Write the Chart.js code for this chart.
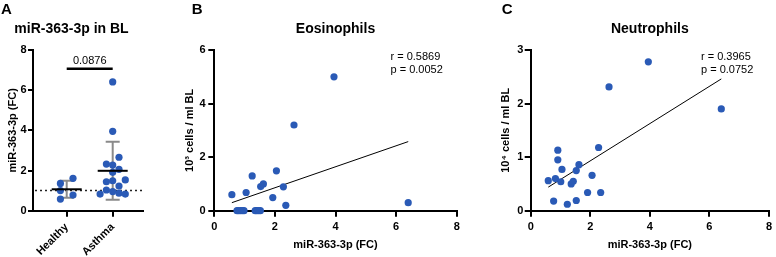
<!DOCTYPE html>
<html><head><meta charset="utf-8">
<script src="https://cdn.jsdelivr.net/npm/chart.js@4.4.1/dist/chart.umd.min.js"></script>
<style>
html,body{margin:0;padding:0;background:#fff;overflow:hidden;width:776px;height:257px;}
canvas{position:absolute;top:0;}
</style></head><body>
<canvas id="cA" width="160" height="257" style="left:0px"></canvas>
<canvas id="cB" width="310" height="257" style="left:160px"></canvas>
<canvas id="cC" width="296" height="257" style="left:480px"></canvas>
<script>
// ---------- Panel A: miR-363-3p in BL ----------
const groupLabels = ['Healthy', 'Asthma'];
const groupPositions = [1, 2];
const healthyFC = [1.36, 1.61, 1.00, 0.78, 0.58];
const healthyJitter = [-1, 1, -1, 1, -1];
const asthmaFC = [6.41, 3.95, 2.66, 2.32, 2.27, 2.06, 1.91, 1.53, 1.49, 1.44, 1.23, 1.03, 0.95, 0.87, 0.83, 0.83];
const asthmaJitter = [0, 0, 1, -1, 0, 1, 0, 2, 0, -1, 1, -1, 0, 1, -2, 2];
const yTicksA = [0, 2, 4, 6, 8];
const referenceFC = 1;
const pValueA = '0.0876';
const bracketLevelA = 7.07;

// ---------- Panel B: Eosinophils ----------
const eosFC = [0.58, 1.05, 1.25, 1.53, 1.62, 1.93, 2.05, 2.28, 2.36, 2.63, 3.95, 6.40,
               0.75, 0.80, 0.86, 0.92, 0.98, 1.35, 1.40, 1.46, 1.52];
const eosCells = [0.60, 0.68, 1.30, 0.90, 1.00, 0.49, 1.49, 0.89, 0.20, 3.20, 5.00, 0.30,
                  0, 0, 0, 0, 0, 0, 0, 0, 0];
const eosFitFC = [0.58, 6.40];
const eosFitCells = [0.30, 2.58];
const eosStats = ['r = 0.5869', 'p = 0.0052'];
const yTicksB = [0, 2, 4, 6];

// ---------- Panel C: Neutrophils ----------
const neuFC = [0.59, 0.77, 0.83, 0.91, 0.91, 1.01, 1.05, 1.23, 1.36, 1.43, 1.53, 1.53, 1.62, 1.91, 2.06, 2.28, 2.35, 2.63, 3.95, 6.40];
const neuCells = [0.56, 0.18, 0.60, 1.13, 0.95, 0.54, 0.77, 0.12, 0.50, 0.55, 0.75, 0.19, 0.86, 0.34, 0.66, 1.18, 0.34, 2.31, 2.78, 1.90];
const neuFitFC = [0.59, 6.40];
const neuFitCells = [0.44, 2.46];
const neuStats = ['r = 0.3965', 'p = 0.0752'];
const yTicksC = [0, 1, 2, 3];
const xTicksBC = [0, 2, 4, 6, 8];

// ---------- styling ----------
const FONT = "'Liberation Sans', Arial, Helvetica, sans-serif";
const BLUE = '#2a5ab6';
const JIT = 0.137;
const tickFont = {family: FONT, size: 11, weight: 'bold'};
const axisTitleFont = {family: FONT, size: 11, weight: 'bold'};
const titleFont = {family: FONT, size: 14, weight: 'bold'};

function pts(xs, ys) { return xs.map((x, i) => ({x: x, y: ys[i]})); }
function mean(a) { return a.reduce((s, v) => s + v, 0) / a.length; }
function sd(a) { const m = mean(a); return Math.sqrt(a.reduce((s, v) => s + (v - m) * (v - m), 0) / (a.length - 1)); }

const textPlugin = {
  id: 'panelText',
  afterDraw(chart, args, opts) {
    const ctx = chart.ctx;
    (opts.items || []).forEach(it => {
      ctx.save();
      ctx.font = it.font;
      ctx.fillStyle = '#000';
      ctx.textAlign = it.align || 'left';
      ctx.textBaseline = 'alphabetic';
      ctx.fillText(it.text, it.x, it.y);
      ctx.restore();
    });
  }
};

const groupStatsPlugin = {
  id: 'groupStats',
  beforeDatasetsDraw(chart) {
    const ctx = chart.ctx, xs = chart.scales.x, ys = chart.scales.y, area = chart.chartArea;
    // dotted reference line at FC = 1
    ctx.save();
    ctx.strokeStyle = '#222'; ctx.lineWidth = 1.5; ctx.setLineDash([2, 3]);
    ctx.beginPath();
    const yr = ys.getPixelForValue(referenceFC);
    ctx.moveTo(area.left + 2, yr); ctx.lineTo(area.right, yr); ctx.stroke();
    ctx.restore();
    // SD whiskers
    [healthyFC, asthmaFC].forEach((arr, gi) => {
      const m = mean(arr), s = sd(arr);
      const px = xs.getPixelForValue(groupPositions[gi]);
      const yt = ys.getPixelForValue(m + s), yb = ys.getPixelForValue(m - s);
      ctx.save();
      ctx.strokeStyle = '#8a8a8a'; ctx.lineWidth = 2;
      ctx.beginPath();
      ctx.moveTo(px, yt); ctx.lineTo(px, yb);
      ctx.moveTo(px - 7, yt); ctx.lineTo(px + 7, yt);
      ctx.moveTo(px - 7, yb); ctx.lineTo(px + 7, yb);
      ctx.stroke();
      ctx.restore();
    });
  },
  afterDatasetsDraw(chart) {
    const ctx = chart.ctx, xs = chart.scales.x, ys = chart.scales.y;
    [healthyFC, asthmaFC].forEach((arr, gi) => {
      const px = xs.getPixelForValue(groupPositions[gi]);
      const pm = ys.getPixelForValue(mean(arr));
      ctx.save();
      ctx.strokeStyle = '#000'; ctx.lineWidth = 2;
      ctx.beginPath(); ctx.moveTo(px - 15, pm); ctx.lineTo(px + 15, pm); ctx.stroke();
      ctx.restore();
    });
    // significance bracket
    const x1 = xs.getPixelForValue(groupPositions[0]), x2 = xs.getPixelForValue(groupPositions[1]);
    const yb = ys.getPixelForValue(bracketLevelA);
    ctx.save();
    ctx.strokeStyle = '#000'; ctx.lineWidth = 2.5;
    ctx.beginPath(); ctx.moveTo(x1, yb); ctx.lineTo(x2, yb); ctx.stroke();
    ctx.font = '11px ' + FONT; ctx.fillStyle = '#000'; ctx.textAlign = 'center'; ctx.textBaseline = 'alphabetic';
    ctx.fillText(pValueA, (x1 + x2) / 2, yb - 4.5);
    ctx.restore();
  }
};

function axisCommon(tickLen, pad) {
  return {
    grid: {display: true, drawOnChartArea: false, drawTicks: true, tickLength: tickLen, color: '#000', lineWidth: 2},
    border: {display: true, color: '#000', width: 2},
    ticks: {font: tickFont, color: '#000', padding: pad, autoSkip: false}
  };
}
function withTicks(list) { return function(scale) { scale.ticks = list.map(v => ({value: v})); }; }

const pointStyle = {backgroundColor: BLUE, borderWidth: 0, pointRadius: 3.6, pointHoverRadius: 3.6, clip: false};

// ---------- Chart A ----------
const axA = axisCommon(6, 4), ayA = axisCommon(5, 1.3);
new Chart(document.getElementById('cA'), {
  type: 'scatter',
  data: {datasets: [
    Object.assign({data: healthyFC.map((v, i) => ({x: groupPositions[0] + healthyJitter[i] * JIT, y: v}))}, pointStyle),
    Object.assign({data: asthmaFC.map((v, i) => ({x: groupPositions[1] + asthmaJitter[i] * JIT, y: v}))}, pointStyle)
  ]},
  options: {
    responsive: false, animation: false, events: [],
    layout: {padding: {left: 0, right: 17, top: 0, bottom: 0}},
    plugins: {
      legend: {display: false}, tooltip: {enabled: false},
      title: {display: true, text: 'miR-363-3p in BL', font: titleFont, color: '#000', padding: {top: 20.6, bottom: 12.6}, fullSize: true},
      panelText: {items: [{text: 'A', x: 1, y: 13.5, font: 'bold 15px ' + FONT}]}
    },
    scales: {
      x: Object.assign({}, axA, {
        type: 'linear', min: 0.267, max: 2.659,
        afterBuildTicks: withTicks(groupPositions),
        ticks: Object.assign({}, axA.ticks, {minRotation: 45, maxRotation: 45, callback: v => groupLabels[groupPositions.indexOf(v)]}),
        afterFit: s => { s.height = 46.3; }
      }),
      y: Object.assign({}, ayA, {
        min: 0, max: 8,
        afterBuildTicks: withTicks(yTicksA),
        title: {display: true, text: 'miR-363-3p (FC)', font: axisTitleFont, color: '#000', padding: {top: 6.4, bottom: 0}},
        afterFit: s => { s.width = 33; }
      })
    }
  },
  plugins: [textPlugin, groupStatsPlugin]
});

// ---------- Scatter panels ----------
function scatterPanel(id, xs, ys, fitX, fitY, title, yTitle, yMax, yTicks, stats, yAxisW, padRight, yTitlePad, yLabelPad, letterX, statsX) {
  const ax = axisCommon(6, 4), ay = axisCommon(6, yLabelPad);
  new Chart(document.getElementById(id), {
    type: 'scatter',
    data: {datasets: [
      Object.assign({data: pts(xs, ys), order: 1}, pointStyle),
      {type: 'line', data: pts(fitX, fitY), borderColor: '#000', borderWidth: 1, pointRadius: 0, fill: false, order: 2, clip: false}
    ]},
    options: {
      responsive: false, animation: false, events: [],
      layout: {padding: {left: 0, right: padRight, top: 0, bottom: 0}},
      plugins: {
        legend: {display: false}, tooltip: {enabled: false},
        title: {display: true, text: title, font: titleFont, color: '#000', padding: {top: 20.6, bottom: 12.6}, fullSize: false},
        panelText: {items: [
          {text: id === 'cB' ? 'B' : 'C', x: letterX, y: 13.5, font: 'bold 15px ' + FONT},
          {text: stats[0], x: statsX, y: 60, font: '11px ' + FONT},
          {text: stats[1], x: statsX, y: 72.5, font: '11px ' + FONT}
        ]}
      },
      scales: {
        x: Object.assign({}, ax, {
          type: 'linear', min: 0, max: 8,
          afterBuildTicks: withTicks(xTicksBC),
          title: {display: true, text: 'miR-363-3p (FC)', font: axisTitleFont, color: '#000', padding: {top: 0, bottom: 5.4}},
          afterFit: s => { s.height = 46.3; }
        }),
        y: Object.assign({}, ay, {
          min: 0, max: yMax,
          afterBuildTicks: withTicks(yTicks),
          title: {display: true, text: yTitle, font: axisTitleFont, color: '#000', padding: {top: yTitlePad, bottom: 0}},
          afterFit: s => { s.width = yAxisW; }
        })
      }
    },
    plugins: [textPlugin]
  });
}

scatterPanel('cB', eosFC, eosCells, eosFitFC, eosFitCells, 'Eosinophils', '10\u00B3 cells / ml BL', 6, yTicksB, eosStats, 54.3, 13.3, 23.4, 2.6, 31.7, 230.5);
scatterPanel('cC', neuFC, neuCells, neuFitFC, neuFitCells, 'Neutrophils', '10\u2074 cells / ml BL', 3, yTicksC, neuStats, 50.7, 2.7, 19.4, 1.4, 21.7, 221);
</script>
</body></html>
